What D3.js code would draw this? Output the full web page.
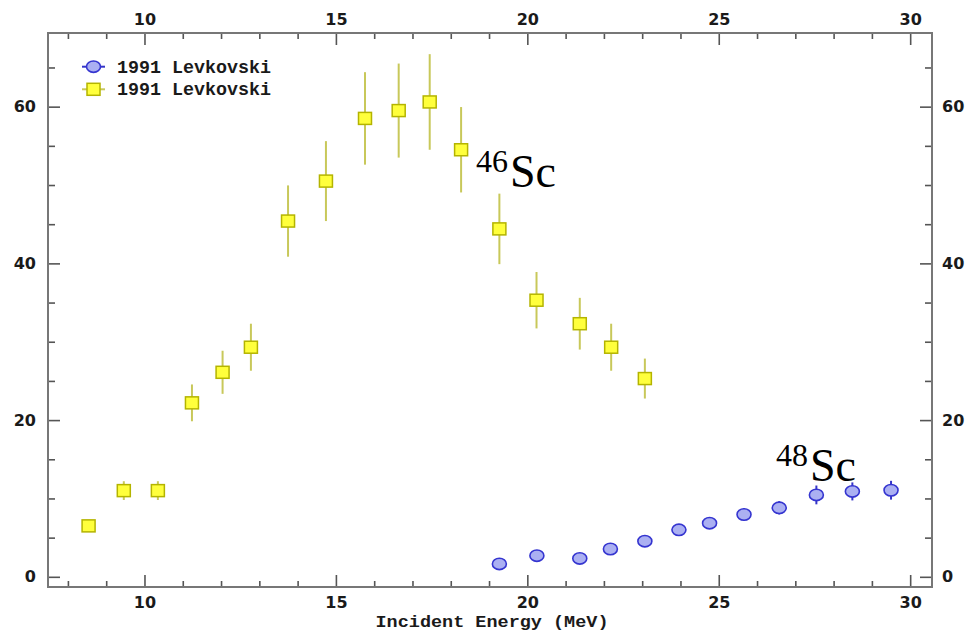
<!DOCTYPE html>
<html>
<head>
<meta charset="utf-8">
<script src="https://cdn.jsdelivr.net/npm/d3@7"></script>
<style>
  html, body { margin: 0; padding: 0; background: #fff; }
  svg { display: block; }
  .tick text { font-family: "DejaVu Sans", sans-serif; font-weight: bold; font-size: 16px; fill: #1a1a1a; }
  .tick line { stroke: #555; stroke-width: 1.6; }
  .domain { display: none; }
</style>
</head>
<body>
<svg id="chart" width="968" height="633"></svg>
<script>
// Levkovski (1991) activation cross sections, mb vs incident energy (MeV)
const energy46 = [8.54, 9.46, 10.35, 11.24, 12.04, 12.78, 13.75, 14.74, 15.76, 16.64, 17.45, 18.27, 19.27, 20.24, 21.37, 22.19, 23.07];
const xs46     = [6.5, 11.0, 11.0, 22.2, 26.1, 29.3, 45.4, 50.5, 58.5, 59.5, 60.6, 54.5, 44.4, 35.3, 32.3, 29.3, 25.3];
const err46    = [0.5, 1.2, 1.2, 2.35, 2.75, 3.0, 4.55, 5.1, 5.9, 6.0, 6.1, 5.45, 4.5, 3.6, 3.3, 3.0, 2.55];

const energy48 = [19.27, 20.25, 21.37, 22.17, 23.07, 23.96, 24.76, 25.66, 26.58, 27.55, 28.49, 29.5];
const xs48     = [1.65, 2.7, 2.35, 3.55, 4.55, 6.0, 6.85, 7.95, 8.8, 10.45, 10.9, 11.05];
const err48    = [0.3, 0.35, 0.35, 0.45, 0.55, 0.65, 0.7, 0.8, 0.85, 1.2, 1.15, 1.2];

const legendLabels = ["1991 Levkovski", "1991 Levkovski"];
const xMajorTicks = [10, 15, 20, 25, 30];
const xMinorTicks = [8, 9, 11, 12, 13, 14, 16, 17, 18, 19, 21, 22, 23, 24, 26, 27, 28, 29];
const yMajorTicks = [0, 20, 40, 60];
const yMinorTicks = [5, 10, 15, 25, 30, 35, 45, 50, 55, 65];
const axisTitle = "Incident Energy (MeV)";

const svg = d3.select("#chart");
const L = 48, R = 932, T = 33, B = 587;

const x = d3.scaleLinear().domain([7.48, 30.57]).range([L, R]);
const y = d3.scaleLinear().domain([-1.3, 69.4]).range([B, T]);

svg.append("rect").attr("width", 968).attr("height", 633).attr("fill", "#fff");

// Axes: ticks point inward on all four sides
function addAxis(gen, tx, ty) {
  return svg.append("g").attr("transform", `translate(${tx},${ty})`).call(gen);
}
addAxis(d3.axisBottom(x).tickValues(xMajorTicks).tickSizeInner(-12).tickSizeOuter(0).tickPadding(10).tickFormat(d3.format("d")), 0, B);
addAxis(d3.axisBottom(x).tickValues(xMinorTicks).tickSizeInner(-6).tickSizeOuter(0).tickFormat(""), 0, B);
addAxis(d3.axisTop(x).tickValues(xMajorTicks).tickSizeInner(-12).tickSizeOuter(0).tickPadding(8).tickFormat(d3.format("d")), 0, T);
addAxis(d3.axisTop(x).tickValues(xMinorTicks).tickSizeInner(-6).tickSizeOuter(0).tickFormat(""), 0, T);
addAxis(d3.axisLeft(y).tickValues(yMajorTicks).tickSizeInner(-12).tickSizeOuter(0).tickPadding(12).tickFormat(d3.format("d")), L, 0);
addAxis(d3.axisLeft(y).tickValues(yMinorTicks).tickSizeInner(-7).tickSizeOuter(0).tickFormat(""), L, 0);
addAxis(d3.axisRight(y).tickValues(yMajorTicks).tickSizeInner(-12).tickSizeOuter(0).tickPadding(10).tickFormat(d3.format("d")), R, 0);
addAxis(d3.axisRight(y).tickValues(yMinorTicks).tickSizeInner(-7).tickSizeOuter(0).tickFormat(""), R, 0);

// Plot frame
svg.append("rect")
  .attr("x", L).attr("y", T).attr("width", R - L).attr("height", B - T)
  .attr("fill", "none").attr("stroke", "#777").attr("stroke-width", 2);

// Axis title
svg.append("text")
  .attr("x", (L + R) / 2 + 2).attr("y", 627)
  .attr("text-anchor", "middle")
  .attr("font-family", "'Liberation Mono', monospace")
  .attr("font-weight", "bold").attr("font-size", 16)
  .attr("textLength", 233).attr("lengthAdjust", "spacingAndGlyphs")
  .attr("fill", "#1a1a1a")
  .text(axisTitle);

const yellowFill = "#ffff3c", yellowStroke = "#b4b400", yellowBar = "#c8c85a";
const blueFill = "#abb0f2", blueStroke = "#3535d0", blueBar = "#3535c8";

const d46 = energy46.map((e, i) => ({ e, v: xs46[i], err: err46[i] }));
const d48 = energy48.map((e, i) => ({ e, v: xs48[i], err: err48[i] }));

// Error bars
svg.append("g").selectAll("line").data(d46).join("line")
  .attr("x1", d => x(d.e)).attr("x2", d => x(d.e))
  .attr("y1", d => y(d.v - d.err)).attr("y2", d => y(d.v + d.err))
  .attr("stroke", yellowBar).attr("stroke-width", 2);
svg.append("g").selectAll("line").data(d48).join("line")
  .attr("x1", d => x(d.e)).attr("x2", d => x(d.e))
  .attr("y1", d => y(d.v - d.err)).attr("y2", d => y(d.v + d.err))
  .attr("stroke", blueBar).attr("stroke-width", 2);

// Markers
const sqW = 13, sqH = 12;
svg.append("g").selectAll("rect").data(d46).join("rect")
  .attr("x", d => x(d.e) - sqW / 2).attr("y", d => y(d.v) - sqH / 2)
  .attr("width", sqW).attr("height", sqH)
  .attr("fill", yellowFill).attr("stroke", yellowStroke).attr("stroke-width", 1.5);
svg.append("g").selectAll("ellipse").data(d48).join("ellipse")
  .attr("cx", d => x(d.e)).attr("cy", d => y(d.v))
  .attr("rx", 7).attr("ry", 5.7)
  .attr("fill", blueFill).attr("stroke", blueStroke).attr("stroke-width", 1.6);

// Legend
const lg = svg.append("g");
const rows = [66.7, 89.3];
lg.append("line").attr("x1", 82).attr("x2", 105).attr("y1", rows[0]).attr("y2", rows[0])
  .attr("stroke", blueBar).attr("stroke-width", 2);
lg.append("ellipse").attr("cx", 93.5).attr("cy", rows[0]).attr("rx", 7).attr("ry", 5.7)
  .attr("fill", blueFill).attr("stroke", blueStroke).attr("stroke-width", 1.6);
lg.append("line").attr("x1", 82).attr("x2", 105).attr("y1", rows[1]).attr("y2", rows[1])
  .attr("stroke", yellowBar).attr("stroke-width", 2);
lg.append("rect").attr("x", 93.5 - sqW / 2).attr("y", rows[1] - sqH / 2).attr("width", sqW).attr("height", sqH)
  .attr("fill", yellowFill).attr("stroke", yellowStroke).attr("stroke-width", 1.5);
lg.selectAll("text").data(legendLabels).join("text")
  .attr("x", 117).attr("y", (d, i) => rows[i] + 6)
  .attr("font-family", "'Liberation Mono', monospace")
  .attr("font-weight", "bold").attr("font-size", 18)
  .attr("textLength", 154).attr("lengthAdjust", "spacingAndGlyphs")
  .attr("fill", "#1a1a1a")
  .text(d => d);

// Isotope labels
function isotope(mass, px, py) {
  const t = svg.append("text").attr("x", px).attr("y", py)
    .attr("font-family", "'Liberation Serif', serif").attr("fill", "#000");
  t.append("tspan").attr("font-size", 32).attr("dy", -15).text(mass);
  t.append("tspan").attr("font-size", 46).attr("dy", 15).attr("dx", 2).text("Sc");
}
isotope("46", 476, 187);
isotope("48", 776, 481);
</script>
</body>
</html>
